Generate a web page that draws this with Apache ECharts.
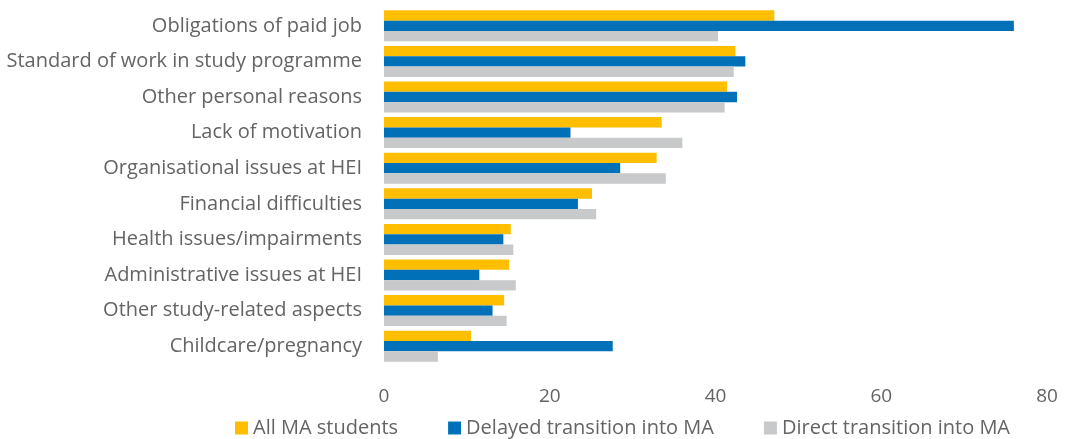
<!DOCTYPE html>
<html>
<head>
<meta charset="utf-8">
<script src="https://cdn.jsdelivr.net/npm/echarts@6/dist/echarts.min.js"></script>
<style>
  html, body { margin: 0; padding: 0; background: #ffffff; }
  #chart { width: 1069px; height: 439px; }
</style>
</head>
<body>
<div id="chart"></div>
<script>
// Reasons for study delays, share of MA students (%)
const categories = [
  'Obligations of paid job',
  'Standard of work in study programme',
  'Other personal reasons',
  'Lack of motivation',
  'Organisational issues at HEI',
  'Financial difficulties',
  'Health issues/impairments',
  'Administrative issues at HEI',
  'Other study-related aspects',
  'Childcare/pregnancy'
];
const allStudents = [47.1, 42.4, 41.4, 33.5, 32.9, 25.1, 15.3, 15.1, 14.5, 10.5];
const delayedTransition = [76.0, 43.6, 42.6, 22.5, 28.5, 23.4, 14.4, 11.5, 13.1, 27.6];
const directTransition = [40.3, 42.2, 41.1, 36.0, 34.0, 25.6, 15.6, 15.9, 14.8, 6.5];
const seriesNames = ['All MA students', 'Delayed transition into MA', 'Direct transition into MA'];
const xTicks = { min: 0, max: 80, interval: 20 };

const textColor = '#646464';
const font = '"Open Sans", "Noto Sans", sans-serif';

const chart = echarts.init(document.getElementById('chart'), null, { renderer: 'canvas' });
chart.setOption({
  animation: false,
  textStyle: { fontFamily: font },
  color: ['#FFBE00', '#0070B8', '#C8C9CB'],
  grid: { left: 384, right: 22, top: 8, bottom: 75, containLabel: false },
  legend: {
    left: 230,
    bottom: -4,
    itemWidth: 13,
    itemHeight: 13,
    itemGap: 50,
    icon: 'rect',
    textStyle: { color: textColor, fontSize: 20, fontFamily: font },
    data: seriesNames
  },
  xAxis: {
    type: 'value',
    min: xTicks.min,
    max: xTicks.max,
    interval: xTicks.interval,
    axisLine: { show: false },
    axisTick: { show: false },
    splitLine: { show: false },
    axisLabel: { color: textColor, fontSize: 19, margin: 23 }
  },
  yAxis: {
    type: 'category',
    inverse: true,
    data: categories,
    axisLine: { show: false },
    axisTick: { show: false },
    axisLabel: { color: textColor, fontSize: 20, margin: 22 }
  },
  series: [
    { name: seriesNames[0], type: 'bar', data: allStudents, barGap: '0%', barCategoryGap: '13%' },
    { name: seriesNames[1], type: 'bar', data: delayedTransition, barGap: '0%', barCategoryGap: '13%' },
    { name: seriesNames[2], type: 'bar', data: directTransition, barGap: '0%', barCategoryGap: '13%' }
  ]
});
</script>
</body>
</html>
